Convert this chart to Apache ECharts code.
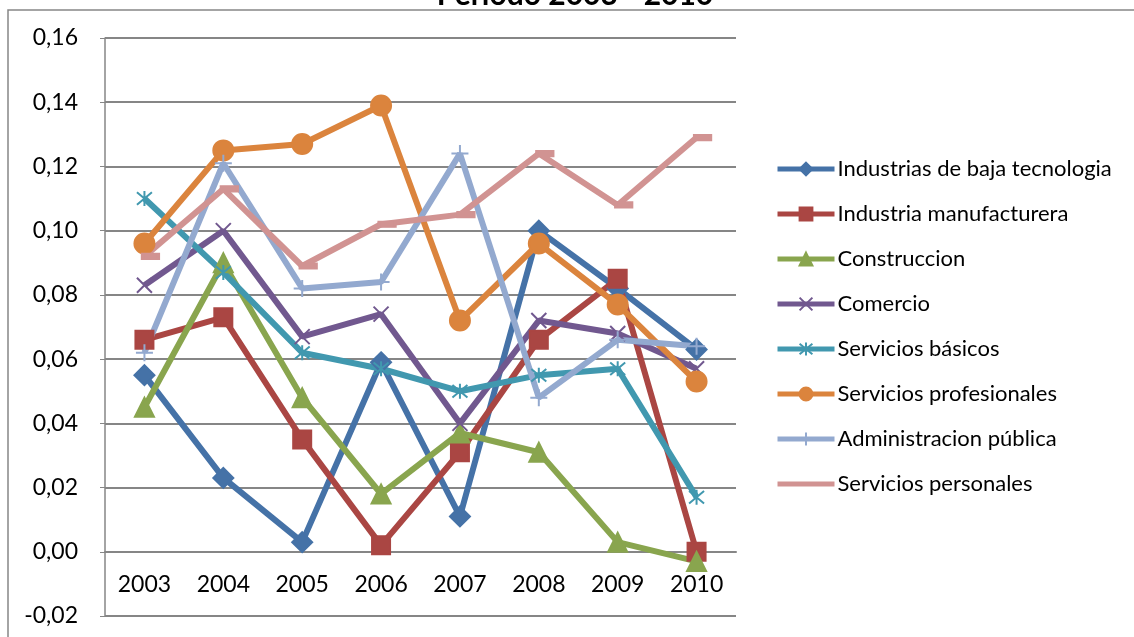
<!DOCTYPE html>
<html>
<head>
<meta charset="utf-8">
<script src="https://cdn.jsdelivr.net/npm/echarts@6/dist/echarts.min.js"></script>
<style>
  html, body { margin: 0; padding: 0; background: #fff; }
  #main { width: 1134px; height: 637px; }
</style>
</head>
<body>
<div id="main"></div>
<script>
  var years = ['2003', '2004', '2005', '2006', '2007', '2008', '2009', '2010'];

  var bajaTecnologia = [0.055, 0.023, 0.003, 0.059, 0.011, 0.100, 0.082, 0.063];
  var manufacturera  = [0.066, 0.073, 0.035, 0.002, 0.031, 0.066, 0.085, 0.000];
  var construccion   = [0.045, 0.090, 0.048, 0.018, 0.037, 0.031, 0.003, -0.003];
  var comercio       = [0.083, 0.100, 0.067, 0.074, 0.040, 0.072, 0.068, 0.057];
  var basicos        = [0.110, 0.087, 0.062, 0.057, 0.050, 0.055, 0.057, 0.017];
  var profesionales  = [0.096, 0.125, 0.127, 0.139, 0.072, 0.096, 0.077, 0.053];
  var adminPublica   = [0.062, 0.121, 0.082, 0.084, 0.124, 0.048, 0.066, 0.064];
  var personales     = [0.092, 0.113, 0.089, 0.102, 0.105, 0.124, 0.108, 0.129];

  var names = ['Industrias de baja tecnologia', 'Industria manufacturera', 'Construccion', 'Comercio',
               'Servicios básicos', 'Servicios profesionales', 'Administracion pública', 'Servicios personales'];

  var FONT = 'Lato, "Open Sans", sans-serif';
  var GRID_COLOR = '#868686';

  var X_PATH = 'path://M0,0L10,10M10,0L0,10';
  var STAR_PATH = 'path://M0,0L10,10M10,0L0,10M5,-1L5,11';
  var PLUS_PATH = 'path://M5,0L5,10M0,5L10,5';
  var DASH_PATH = 'path://M0,0L14,0L14,5L0,5Z';

  function line(name, data, color, symbol, size, offset) {
    return {
      name: name,
      type: 'line',
      data: data,
      symbol: symbol,
      symbolSize: size,
      symbolOffset: offset || [0, 0],
      showAllSymbol: true,
      lineStyle: { color: color, width: 6 },
      itemStyle: { color: color, borderColor: color, borderWidth: 2 },
      emphasis: { disabled: true },
      animation: false
    };
  }

  var legendData = names.map(function (n, i) {
    // the dash marker of the last series disappears into its line in the legend
    return i === 7 ? { name: n, itemStyle: { opacity: 0 } } : { name: n };
  });

  var chart = echarts.init(document.getElementById('main'));
  chart.setOption({
    backgroundColor: '#fff',
    textStyle: { fontFamily: FONT },
    title: {
      text: 'Periodo 2003 - 2010',
      left: 575,
      textAlign: 'center',
      top: -20,
      padding: 0,
      textStyle: { fontFamily: FONT, fontWeight: 'bold', fontSize: 30, color: '#000' }
    },
    graphic: [{
      type: 'rect',
      shape: { x: 8, y: 10, width: 1140, height: 640 },
      style: { fill: '#fff', stroke: GRID_COLOR, lineWidth: 1.5 },
      z: -10,
      silent: true
    }],
    grid: { left: 105, top: 38, right: 398, bottom: 21, outerBoundsMode: 'none' },
    legend: {
      data: legendData,
      orient: 'vertical',
      left: 775,
      top: 156,
      padding: 0,
      itemWidth: 57,
      itemHeight: 16,
      itemGap: 19,
      lineStyle: { width: 5 },
      textStyle: { fontFamily: FONT, fontSize: 22, color: '#000', lineHeight: 26, padding: [0, 0, 0, -2] }
    },
    xAxis: {
      type: 'category',
      data: years,
      boundaryGap: true,
      offset: -64,
      axisLine: { onZero: false, lineStyle: { color: GRID_COLOR, width: 2 } },
      axisTick: { show: false },
      axisLabel: { fontFamily: FONT, fontSize: 23, color: '#000', margin: 21 }
    },
    yAxis: {
      type: 'value',
      min: -0.02,
      max: 0.16,
      interval: 0.02,
      axisLine: { show: true, lineStyle: { color: GRID_COLOR, width: 1.5 } },
      axisTick: { show: true, length: 5, lineStyle: { color: GRID_COLOR } },
      splitLine: { lineStyle: { color: GRID_COLOR, width: 2 } },
      axisLabel: {
        fontFamily: FONT, fontSize: 23, color: '#000', margin: 27,
        formatter: function (v) { return v.toFixed(2).replace('.', ','); }
      }
    },
    series: [
      line(names[0], bajaTecnologia, '#4572A7', 'diamond', 20),
      line(names[1], manufacturera, '#AA4643', 'rect', 18),
      line(names[2], construccion, '#89A54E', 'triangle', 19),
      line(names[3], comercio, '#71588F', X_PATH, 15),
      line(names[4], basicos, '#4198AF', STAR_PATH, 15),
      line(names[5], profesionales, '#DB843D', 'circle', 20),
      line(names[6], adminPublica, '#93A9CF', PLUS_PATH, 17),
      line(names[7], personales, '#D19392', DASH_PATH, [16, 6], [6, 0])
    ]
  });
</script>
</body>
</html>
